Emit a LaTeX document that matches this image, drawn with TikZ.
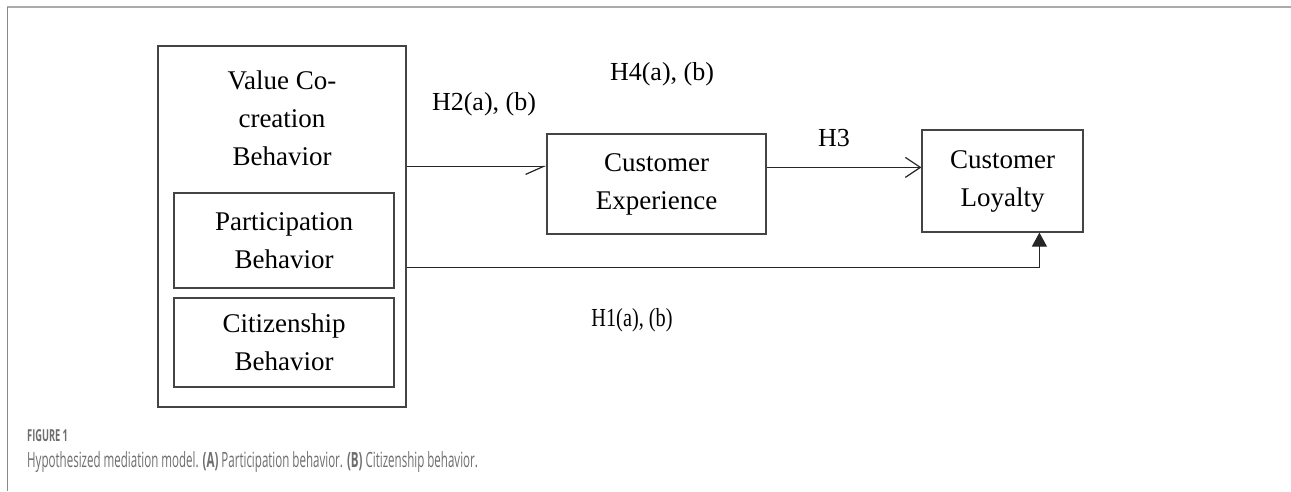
\documentclass[tikz,border=0pt]{standalone}
\usepackage{fontspec}
\setmainfont{Liberation Serif}
\newfontfamily\capfont{Open Sans}
\usetikzlibrary{arrows.meta,calc}
\definecolor{boxline}{HTML}{444444}
\definecolor{capgray}{HTML}{6E6E6E}
\definecolor{framegray}{HTML}{AAAAAA}
\definecolor{framegray2}{HTML}{8A8A8A}
\tikzset{
  box/.style={draw=boxline, line width=1.2pt, rectangle, inner sep=0pt, align=center,
    font=\fontsize{27}{38}\selectfont},
  plain/.style={inner sep=0pt, align=center, font=\fontsize{27}{38}\selectfont},
  hyp/.style={inner sep=0pt, font=\fontsize{26}{30}\selectfont},
  conn/.style={draw=black!85, line width=1.2pt},
}
\begin{document}
\begin{tikzpicture}[x=1pt,y=-1pt]
\useasboundingbox (0,0) rectangle (1291,491);
% frame
\draw[framegray, line width=2pt] (7,7) -- (1291,7);
\draw[framegray2, line width=1pt] (7,7) -- (7,491);
% outer box
\node[box, minimum width=248, minimum height=361] (vcb) at (282,226.5) {};
\node[plain] (vcbt) at (282,118) {Value Co-\\creation\\Behavior};
\node[box, minimum width=220, minimum height=95] (pb) at (284,240.5) {Participation\\Behavior};
\node[box, minimum width=220, minimum height=89] (cb) at (284,342.5) {Citizenship\\Behavior};
\node[box, minimum width=219, minimum height=100] (ce) at (656.5,184) {Customer\\Experience};
\node[box, minimum width=161, minimum height=102] (cl) at (1002.5,181) {Customer\\Loyalty};
% connector end points
\coordinate (h2s) at ($(vcb.north east)+(0,121)$);
\coordinate (h3s) at ($(ce.north east)+(0,34)$);
\coordinate (h1s) at ($(vcb.north east)+(0,222)$);
\coordinate (h1e) at ($(cl.south west)+(118,0)$);
\draw[conn, -{Straight Barb[harpoon,swap,length=18pt,width=16pt,line width=1.2pt]}] (h2s) -- (h2s -| ce.west);
\draw[conn, -{Straight Barb[length=15pt,width=20pt,line width=1.2pt]}] (h3s) -- (h3s -| cl.west);
\draw[conn, -{Triangle[length=14pt,width=15pt]}] (h1s) -| (h1e);
% labels
\node[hyp] (h2) at (484,104) {H2(a), (b)};
\node[hyp] (h4) at (662,74) {H4(a), (b)};
\node[hyp] (h3) at (834,138) {H3};
\node[hyp, xscale=0.78, transform shape] (h1) at (632,320) {H1(a), (b)};
% caption
\node[anchor=base west, inner sep=0pt, text=capgray] (fig) at (27,441)
  {\capfont\fontsize{16.5}{18}\selectfont\scalebox{0.56}[1]{\textbf{FIGURE 1}}};
\node[anchor=base west, inner sep=0pt, text=capgray] (cap) at (27,467)
  {\capfont\fontsize{21}{24}\selectfont\scalebox{0.55}[1]{Hypothesized mediation model. \textbf{(A)} Participation behavior. \textbf{(B)} Citizenship behavior.}};
\end{tikzpicture}
\end{document}
